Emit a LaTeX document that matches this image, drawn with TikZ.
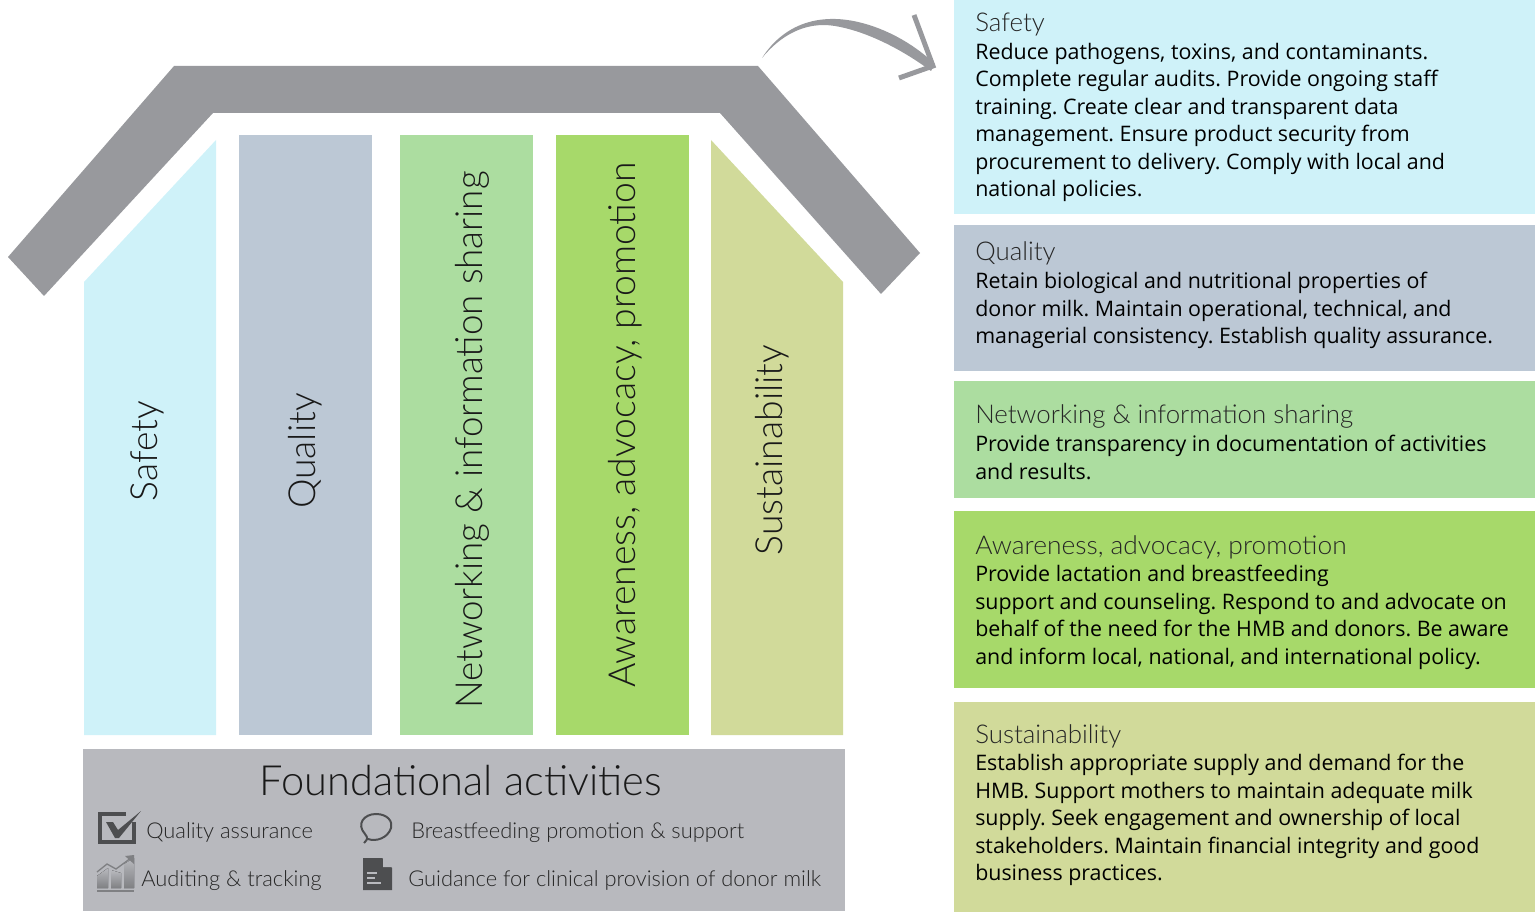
\documentclass[tikz,border=0pt]{standalone}
\usepackage{fontspec}
\setmainfont{Open Sans}
\newfontfamily\thinfont{Lato Light}
\definecolor{roofgray}{HTML}{98999D}
\definecolor{basegray}{HTML}{B8B9BE}
\definecolor{icongray}{HTML}{4D4E50}
\definecolor{chartgray}{HTML}{7F8083}
\definecolor{safetyc}{HTML}{CFF2F9}
\definecolor{qualityc}{HTML}{BCC8D5}
\definecolor{networkc}{HTML}{ACDDA0}
\definecolor{awarec}{HTML}{A7D96A}
\definecolor{sustainc}{HTML}{D1DA9A}
\tikzset{
  pillarlabel/.style={rotate=90,inner sep=0,text=black!90,font=\thinfont\fontsize{28}{30}\selectfont},
  headlabel/.style={anchor=base west,inner sep=0,text=black!85,font=\thinfont\fontsize{19.4}{22}\selectfont},
  bodylabel/.style={anchor=north west,inner sep=0,align=left,text=black,font=\frenchspacing\fontsize{16.05}{20.6}\selectfont},
  legendlabel/.style={anchor=base west,inner sep=0,text=black!85,font=\thinfont\fontsize{16.4}{20}\selectfont},
  chartbar/.style={top color=basegray,bottom color=chartgray},
}
\begin{document}
\begin{tikzpicture}[x=0.75pt,y=-0.75pt]
	\useasboundingbox (0,0) rectangle (1535,912);
	% roof
	\fill [roofgray] (8,257) -- (174,66) -- (758,66) -- (920,253) -- (881,294) -- (720,113) -- (213,113) -- (44,296) -- cycle;
	% pillars
	\fill [safetyc] (84,282) -- (216,140) -- (216,735) -- (84,735) -- cycle;
	\fill [qualityc] (239,135) rectangle (372,735);
	\fill [networkc] (400,135) rectangle (533,735);
	\fill [awarec] (556,135) rectangle (689,735);
	\fill [sustainc] (711,140) -- (843,282) -- (843,735) -- (711,735) -- cycle;
	\node [pillarlabel] (PS) at (147,451) {Safety};
	\node [pillarlabel] (PQ) at (305,451) {Quality};
	\node [pillarlabel,xscale=0.985] (PN) at (472,440) {Networking \& information sharing};
	\node [pillarlabel] (PA) at (625,425) {Awareness, advocacy, promotion};
	\node [pillarlabel] (PU) at (772,450) {Sustainability};
	% foundation
	\fill [basegray] (83,749) rectangle (845,911);
	\node [inner sep=0,text=black!90,font=\thinfont\fontsize{31.2}{34}\selectfont] (F) at (461,781) {Foundational activities};
	\node [legendlabel] (L1) at (146,838) {Quality assurance};
	\node [legendlabel] (L2) at (411,838) {Breastfeeding promotion \& support};
	\node [legendlabel] (L3) at (141,886) {Auditing \& tracking};
	\node [legendlabel] (L4) at (408,886) {Guidance for clinical provision of donor milk};
	% icons
	\draw [icongray,line width=3pt] (100,814) rectangle (134,842);
	\fill [basegray] (122,810) rectangle (137,822);
	\draw [icongray,line width=3pt] (100,814) -- (126,814) (134,823) -- (134,842);
	\fill [icongray] (106,822) -- (113,822) -- (118,830) -- (141,811) -- (119,838) -- (115,838) -- cycle;
	\draw [icongray,line width=1.5pt] (364,843) .. controls (368,839) and (368,838) .. (365,834) .. controls (356,824) and (364,814) .. (376,814) .. controls (388,814) and (393,822) .. (391,828) .. controls (388,838) and (376,842) .. (368,839);
	\fill [chartbar] (97,876) -- (108,868) -- (108,888) -- (97,888) -- cycle;
	\fill [chartbar] (111,870) -- (121,873) -- (121,888) -- (111,888) -- cycle;
	\fill [chartbar] (124,864) -- (134,858) -- (134,888) -- (124,888) -- cycle;
	\fill [chartgray] (97,890) rectangle (134,892);
	\draw [chartgray,line width=1pt] (97,872) -- (107,864) -- (116,869) -- (131,858);
	\fill [chartgray] (125,856) -- (134,855) -- (134,864) -- cycle;
	\fill [icongray] (363,858) -- (382,858) -- (392,868) -- (392,890) -- (363,890) -- cycle;
	\fill [basegray] (383,858) -- (392,867) -- (383,867) -- cycle;
	\draw [basegray,line width=0.8pt] (367,873) -- (377,873) (367,878) -- (375,878) (367,883) -- (381,883);
	% arrow
	\fill [roofgray] (762,58) .. controls (785,22) and (825,9) .. (875,27) .. controls (900,36) and (920,50) .. (935,64) -- (931,71) .. controls (900,48) and (865,31) .. (835,26) .. controls (805,21) and (780,36) .. cycle;
	\draw [roofgray,line width=3.7pt,miter limit=10] (914,15) -- (933,66) -- (899,78);
	% text boxes
	\fill [safetyc] (954,0) rectangle (1535,214);
	\fill [qualityc] (954,225) rectangle (1535,371);
	\fill [networkc] (954,381) rectangle (1535,498);
	\fill [awarec] (954,511) rectangle (1535,688);
	\fill [sustainc] (954,702) rectangle (1535,912);
	\node [headlabel] (HS) at (975,32) {Safety};
	\node [bodylabel] (BS) at (975,43) {Reduce pathogens, toxins, and contaminants.\\Complete regular audits. Provide ongoing staff\\training. Create clear and transparent data\\management. Ensure product security from\\procurement to delivery. Comply with local and\\national policies.};
	\node [headlabel] (HQ) at (975,261) {Quality};
	\node [bodylabel] (BQ) at (975,272) {Retain biological and nutritional properties of\\donor milk. Maintain operational, technical, and\\managerial consistency. Establish quality assurance.};
	\node [headlabel] (HN) at (975,424) {Networking \& information sharing};
	\node [bodylabel] (BN) at (975,435) {Provide transparency in documentation of activities\\and results.};
	\node [headlabel,xscale=1.02] (HA) at (975,555) {Awareness, advocacy, promotion};
	\node [bodylabel] (BA) at (975,565) {Provide lactation and breastfeeding\\support and counseling. Respond to and advocate on\\behalf of the need for the HMB and donors. Be aware\\and inform local, national, and international policy.};
	\node [headlabel] (HU) at (975,743) {Sustainability};
	\node [bodylabel] (BU) at (975,754) {Establish appropriate supply and demand for the\\HMB. Support mothers to maintain adequate milk\\supply. Seek engagement and ownership of local\\stakeholders. Maintain financial integrity and good\\business practices.};
\end{tikzpicture}
\end{document}
